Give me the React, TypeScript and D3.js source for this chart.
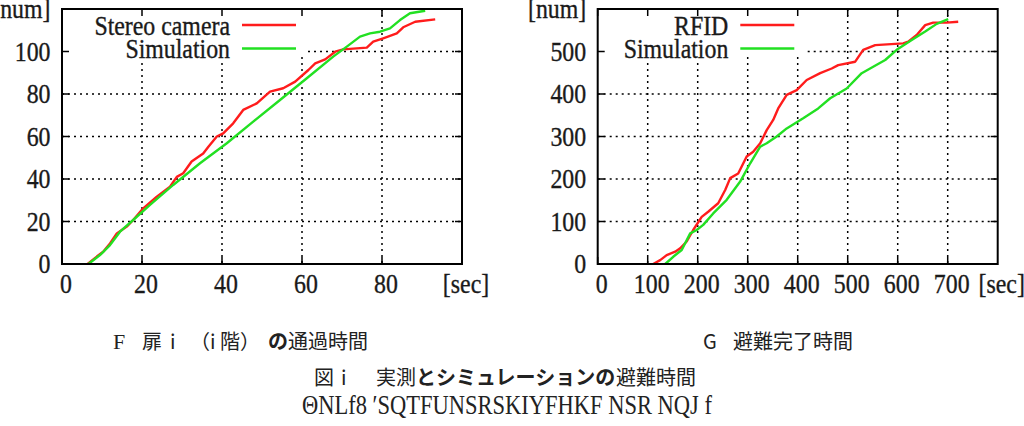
import React from 'react';
import * as d3 from 'd3';

// ---- data: left chart (stairs, 1F door) ----
const stereoTime = [6.4, 8.7, 10.3, 12, 13.7, 16.2, 17.8, 20.3, 23.7, 27, 28.7, 30.3, 32.4, 35.3, 36.6, 38.7, 40.3, 42.8, 45.3, 48.7, 52, 55.3, 58.3, 61.6, 63.3, 65.8, 68.3, 70.3, 76.2, 77.8, 80.3, 83.7, 85.3, 88.3, 93.3];
const stereoCount = [0, 3.5, 5.8, 9.7, 14.4, 17.6, 20.7, 26.2, 31.7, 36.4, 41, 42.7, 48.2, 52, 55.2, 60, 61.5, 66.2, 72.5, 75.6, 81.1, 82.7, 85.8, 91.3, 94.4, 96.3, 99.9, 101, 101.8, 104.6, 106.2, 108.5, 111.4, 114, 115.1];
const simATime = [6.6, 9.5, 12, 14.5, 17.8, 22, 27.8, 34.5, 41.2, 47.8, 54.5, 61.2, 67.8, 71.2, 74.5, 77, 79.5, 82, 84.5, 87, 90.8];
const simACount = [0, 4.2, 8.9, 15.2, 20.7, 27.8, 37.2, 47.4, 56.8, 67, 77.2, 87.4, 97.6, 102.3, 107, 108.5, 109.3, 110.9, 114.8, 118, 119.2];
const leftXTicks = [0, 20, 40, 60, 80];
const leftYTicks = [0, 20, 40, 60, 80, 100];

// ---- data: right chart (evacuation completion) ----
const rfidTime = [111, 125, 138, 155, 165, 178, 191, 208, 221, 241, 255, 265, 281, 298, 311, 325, 338, 351, 361, 378, 398, 418, 445, 468, 481, 515, 531, 555, 611, 621, 638, 655, 671, 698, 721];
const rfidCount = [0, 9, 21, 29, 37, 53, 80, 111, 123, 143, 174, 202, 213, 253, 264, 284, 315, 339, 366, 398, 409, 433, 449, 460, 468, 476, 504, 515, 519, 523, 539, 562, 568, 568, 570];
const simBTime = [135, 151, 168, 185, 198, 211, 231, 258, 285, 305, 325, 338, 358, 378, 411, 441, 465, 498, 528, 551, 575, 598, 628, 655, 678, 701];
const simBCount = [0, 17, 33, 72, 80, 92, 119, 151, 194, 237, 276, 284, 300, 319, 343, 366, 390, 413, 449, 464, 480, 504, 527, 547, 565, 576];
const rightXTicks = [0, 100, 200, 300, 400, 500, 600, 700];
const rightYTicks = [0, 100, 200, 300, 400, 500];

const RED = '#ff1c1c';
const GREEN = '#22e022';
const SERIF = "'Liberation Serif', 'DejaVu Serif', serif";
const CJK = "'Noto Sans CJK JP', 'Noto Sans', sans-serif";
const FS = 26.5;
const SX = 0.9;

function SText({ x, y, anchor, children, size = FS }: any) {
  return (
    <text
      transform={`translate(${x},${y}) scale(${SX},1)`}
      textAnchor={anchor}
      style={{ fontFamily: SERIF, fontSize: size }}
      fill="#1a1a1a"
      stroke="#1a1a1a"
      strokeWidth={0.35}
    >
      {children}
    </text>
  );
}

function Chart({ box, xDomain, yDomain, xTicks, yTicks, series, labels, legendTextRight }: any) {
  const x = d3.scaleLinear().domain(xDomain).range([box.left, box.right]);
  const y = d3.scaleLinear().domain(yDomain).range([box.bottom, box.top]);
  const line = d3.line<[number, number]>().x((d) => x(d[0])).y((d) => y(d[1]));
  const tickLen = 7;
  const legendLineStart = legendTextRight + 12;
  const legendLineEnd = legendTextRight + 66;
  const rowY = [25, 48.5];
  return (
    <g>
      {xTicks.filter((t: number) => t !== xDomain[0]).map((t: number) => (
        <line key={'gx' + t} x1={x(t)} x2={x(t)} y1={box.top} y2={box.bottom} stroke="#000" strokeWidth={1.5} strokeDasharray="2,4" />
      ))}
      {yTicks.filter((t: number) => t !== yDomain[0]).map((t: number) => (
        <line key={'gy' + t} x1={box.left} x2={box.right} y1={y(t)} y2={y(t)} stroke="#000" strokeWidth={1.5} strokeDasharray="2,4" />
      ))}
      <rect x={box.left} y={box.top} width={legendTextRight + 6 - box.left} height={62 - box.top} fill="#fff" />
      <rect x={box.left} y={box.top} width={legendLineEnd + 11 - box.left} height={53 - box.top} fill="#fff" />
      {xTicks.map((t: number) => (
        <g key={'tx' + t}>
          <line x1={x(t)} x2={x(t)} y1={box.bottom} y2={box.bottom - tickLen} stroke="#000" strokeWidth={1.5} />
          <line x1={x(t)} x2={x(t)} y1={box.top} y2={box.top + tickLen} stroke="#000" strokeWidth={1.5} />
        </g>
      ))}
      {yTicks.map((t: number) => (
        <g key={'ty' + t}>
          <line x1={box.left} x2={box.left + tickLen} y1={y(t)} y2={y(t)} stroke="#000" strokeWidth={1.5} />
          <line x1={box.right} x2={box.right - tickLen} y1={y(t)} y2={y(t)} stroke="#000" strokeWidth={1.5} />
        </g>
      ))}
      {series.map((s: any) => (
        <path key={s.name} d={line(s.t.map((v: number, i: number) => [v, s.c[i]]) as any) || ''} fill="none" stroke={s.color} strokeWidth={2.4} strokeLinejoin="round" />
      ))}
      <rect x={box.left} y={box.top} width={box.right - box.left} height={box.bottom - box.top} fill="none" stroke="#000" strokeWidth={2} />
      {xTicks.map((t: number) => (
        <SText key={'lx' + t} x={x(t) + 4} y={293} anchor="middle">{String(t)}</SText>
      ))}
      <SText x={x(xDomain[1]) + 4} y={293} anchor="middle">{labels.x}</SText>
      {yTicks.map((t: number) => (
        <SText key={'ly' + t} x={box.left - 11.5} y={y(t) + 9} anchor="end">{String(t)}</SText>
      ))}
      <SText x={box.left - 11.5} y={y(yDomain[1]) + 9} anchor="end">{labels.y}</SText>
      {series.map((s: any, i: number) => (
        <g key={'lg' + s.name}>
          <SText x={legendTextRight} y={rowY[i] + 9.5} anchor="end">{s.name}</SText>
          <line x1={legendLineStart} x2={legendLineEnd} y1={rowY[i]} y2={rowY[i]} stroke={s.color} strokeWidth={2.4} />
        </g>
      ))}
    </g>
  );
}

export default function App() {
  return (
    <svg width={1024} height={426} style={{ position: 'absolute', left: 0, top: 0, background: '#fff' }}>
      <rect x={0} y={0} width={1024} height={426} fill="#fff" />
      <Chart
        box={{ left: 62, right: 462, top: 9, bottom: 264 }}
        xDomain={[0, 100]}
        yDomain={[0, 120]}
        xTicks={leftXTicks}
        yTicks={leftYTicks}
        labels={{ x: '[sec]', y: '[num]' }}
        legendTextRight={230}
        series={[
          { name: 'Stereo camera', t: stereoTime, c: stereoCount, color: RED },
          { name: 'Simulation', t: simATime, c: simACount, color: GREEN },
        ]}
      />
      <Chart
        box={{ left: 597.7, right: 997.7, top: 9, bottom: 264 }}
        xDomain={[0, 800]}
        yDomain={[0, 600]}
        xTicks={rightXTicks}
        yTicks={rightYTicks}
        labels={{ x: '[sec]', y: '[num]' }}
        legendTextRight={728.3}
        series={[
          { name: 'RFID', t: rfidTime, c: rfidCount, color: RED },
          { name: 'Simulation', t: simBTime, c: simBCount, color: GREEN },
        ]}
      />
      <g fill="#222" style={{ fontFamily: CJK, fontSize: 20 }}>
        <text x={113} y={349} style={{ fontFamily: SERIF, fontSize: 22 }}>F</text>
        <text x={142} y={349}>扉</text>
        <text x={170} y={349}>i</text>
        <text x={190} y={349}>（i 階）</text>
        <text x={268} y={349} fontWeight="bold">の</text>
        <text x={288} y={349}>通過時間</text>

        <text x={703} y={349}>G</text>
        <text x={733} y={349}>避難完了時間</text>

        <text x={314} y={385}>図</text>
        <text x={341} y={385}>i</text>
        <text x={376} y={385}>実測</text>
        <text x={416} y={385} fontWeight="bold">とシミュレーションの</text>
        <text x={616} y={385}>避難時間</text>

        <text x={302} y={414} style={{ fontFamily: SERIF, fontSize: 27 }} textLength={410} lengthAdjust="spacingAndGlyphs">ΘNLf8   ′SQTFUNSRSKIYFHKF NSR  NQJ f</text>
      </g>
    </svg>
  );
}
